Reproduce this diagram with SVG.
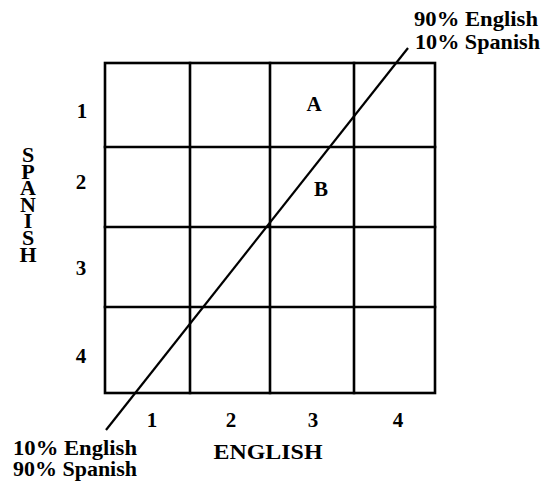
<svg xmlns="http://www.w3.org/2000/svg" width="544" height="481" viewBox="0 0 544 481">
<style>
.g{stroke:#000;stroke-width:2.6;fill:none;stroke-linecap:square}
.d{stroke:#000;stroke-width:2.2;fill:none}
text{font-family:"Liberation Serif","Times New Roman",serif;font-weight:bold;fill:#000}
.n{font-size:21px;text-anchor:middle}
.l{font-size:22px}
.c{font-size:22px;text-anchor:middle}
</style>
<rect width="544" height="481" fill="#fff"/>
<g id="grid">
<rect class="g" x="105" y="63" width="330" height="330"/>
<line class="g" x1="190" y1="63" x2="190" y2="393"/>
<line class="g" x1="270" y1="63" x2="270" y2="393"/>
<line class="g" x1="354" y1="63" x2="354" y2="393"/>
<line class="g" x1="105" y1="147" x2="435" y2="147"/>
<line class="g" x1="105" y1="227" x2="435" y2="227"/>
<line class="g" x1="105" y1="307" x2="435" y2="307"/>
</g>
<g id="connectors">
<line class="d" x1="106" y1="430" x2="408" y2="48"/>
</g>
<g id="row-labels">
<text class="n" x="82" y="118">1</text>
<text class="n" x="81" y="189">2</text>
<text class="n" x="81" y="275">3</text>
<text class="n" x="81" y="363">4</text>
</g>
<g id="col-labels">
<text class="n" x="152" y="427">1</text>
<text class="n" x="231" y="427">2</text>
<text class="n" x="313" y="427">3</text>
<text class="n" x="398" y="427">4</text>
</g>
<g id="axis-english">
<text class="c" x="268" y="459" textLength="109" lengthAdjust="spacingAndGlyphs">ENGLISH</text>
</g>
<g id="axis-spanish">
<text class="c"><tspan x="28" y="162">S</tspan><tspan x="28" y="179">P</tspan><tspan x="28" y="195">A</tspan><tspan x="28" y="212">N</tspan><tspan x="28" y="228">I</tspan><tspan x="28" y="245">S</tspan><tspan x="28" y="262">H</tspan></text>
</g>
<g id="point-A"><text class="n" x="314" y="111">A</text></g>
<g id="point-B"><text class="n" x="321" y="196">B</text></g>
<g id="label-top">
<text class="l" x="414" y="26" textLength="124" lengthAdjust="spacingAndGlyphs">90% English</text>
<text class="l" x="415" y="49" textLength="125" lengthAdjust="spacingAndGlyphs">10% Spanish</text>
</g>
<g id="label-bottom">
<text class="l" x="13" y="455" textLength="124" lengthAdjust="spacingAndGlyphs">10% English</text>
<text class="l" x="13" y="476" textLength="124" lengthAdjust="spacingAndGlyphs">90% Spanish</text>
</g>
</svg>
